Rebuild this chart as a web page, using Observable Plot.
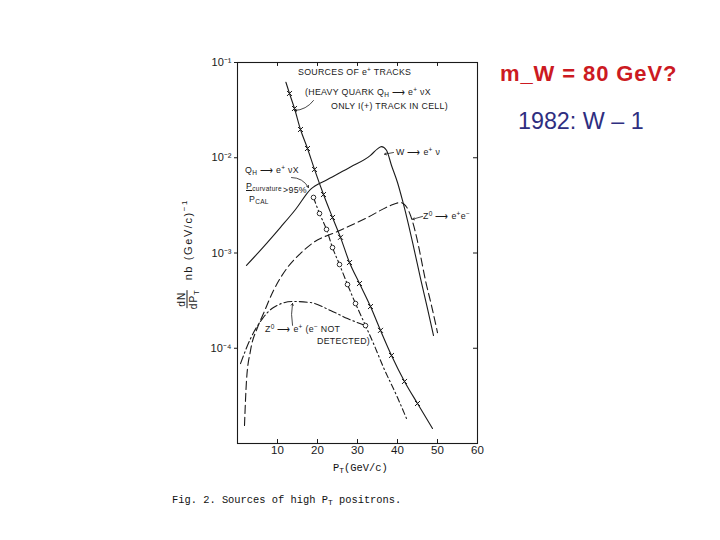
<!DOCTYPE html>
<html>
<head>
<meta charset="utf-8">
<script src="https://cdn.jsdelivr.net/npm/d3@7"></script>
<script src="https://cdn.jsdelivr.net/npm/@observablehq/plot@0.6"></script>
<style>
  html, body { margin: 0; padding: 0; background: #fff; }
  #wrap { position: relative; width: 720px; height: 540px; overflow: hidden; background: #fff; }
  #chart { position: absolute; left: 0; top: 0; }
  .a { position: absolute; font-family: "Liberation Sans", Arial, sans-serif; font-size: 8.8px; color: #1a1a1a; white-space: nowrap; line-height: 10px; letter-spacing: 0.3px; }
  .a sub { font-size: 6.5px; vertical-align: -2px; line-height: 0; }
  .a sup { font-size: 6.5px; vertical-align: 3px; line-height: 0; }
  .mono { position: absolute; font-family: "Liberation Mono", "DejaVu Sans Mono", monospace; font-size: 10.4px; color: #111; white-space: nowrap; line-height: 12px; }
  .mono sub { font-size: 8px; vertical-align: -2px; line-height: 0; }
  .slide { position: absolute; font-family: "Liberation Sans", Arial, sans-serif; white-space: nowrap; line-height: 1; }
  #ylab { position: absolute; left: 187px; top: 254px; transform: translate(-50%, -50%) rotate(-90deg); font-family: "Liberation Sans", Arial, sans-serif; font-size: 11px; color: #1a1a1a; white-space: nowrap; letter-spacing: 1.6px; display: flex; align-items: center; }
  #ylab .frac { display: inline-flex; flex-direction: column; align-items: center; margin-right: 9px; font-size: 10px; line-height: 11px; letter-spacing: 1px; }
  #ylab .frac .num { border-bottom: 1px solid #1a1a1a; padding: 0 2px; }
  #ylab sub { font-size: 7.5px; vertical-align: -2px; line-height: 0; }
  #ylab sup { font-size: 8px; vertical-align: 5px; line-height: 0; }
</style>
</head>
<body>
<div id="wrap">
  <div id="chart"></div>

  <div class="a" style="left:298px;top:67px;">SOURCES OF e<sup>+</sup> TRACKS</div>
  <div class="a" style="left:305px;top:87px;">(HEAVY QUARK Q<sub>H</sub> ⟶ e<sup>+</sup> νX</div>
  <div class="a" style="left:331px;top:101px;">ONLY I(+) TRACK IN CELL)</div>
  <div class="a" style="left:396px;top:147px;">W ⟶ e<sup>+</sup> ν</div>
  <div class="a" style="left:245px;top:165px;">Q<sub>H</sub> ⟶ e<sup>+</sup> νX</div>
  <div class="a" style="left:246px;top:181px;text-decoration:underline;">P<sub>curvature</sub></div>
  <div class="a" style="left:283px;top:185px;">&gt;95%</div>
  <div class="a" style="left:249px;top:194px;">P<sub>CAL</sub></div>
  <div class="a" style="left:423px;top:211px;">Z<sup>0</sup> ⟶ e<sup>+</sup>e<sup>−</sup></div>
  <div class="a" style="left:265px;top:324px;">Z<sup>0</sup> ⟶ e<sup>+</sup> (e<sup>−</sup> NOT</div>
  <div class="a" style="left:317px;top:336px;">DETECTED)</div>

  <div id="ylab"><span class="frac"><span class="num">dN</span><span>dP<sub>T</sub></span></span><span>nb (GeV/c)<sup>−1</sup></span></div>

  <div class="mono" style="left:333px;top:462px;">P<sub>T</sub>(GeV/c)</div>
  <div class="mono" style="left:172px;top:494px;">Fig. 2.  Sources of high P<sub>T</sub> positrons.</div>

  <div class="slide" style="left:500px;top:63px;font-size:22px;font-weight:bold;letter-spacing:0.9px;color:#cc1a22;">m_W = 80 GeV?</div>
  <div class="slide" style="left:518px;top:110px;font-size:23.3px;color:#2e2e80;">1982: W – 1</div>
</div>

<script>
// ---- data ----
const xTicks = [10, 20, 30, 40, 50, 60];
const yTicks = [1e-1, 1e-2, 1e-3, 1e-4];

// Heavy quark Q_H -> e+ nu X (only 1(+) track in cell): solid line with x markers
const hqPt  = [12.1, 13.0, 14.25, 15.75, 17.5, 19.25, 21.5, 23.75, 25.75, 28.0, 30.5, 33.25, 35.75, 38.5, 41.75, 45.0, 48.75];
const hqVal = [0.062, 0.0473, 0.0329, 0.0198, 0.0125, 0.00754, 0.00411, 0.00236, 0.00146, 0.000794, 0.000478, 0.000274, 0.000154, 0.000084, 0.0000448, 0.0000263, 0.0000144];

// Q_H -> e+ nu X with Pcurvature/PCAL > 95%: dash-dot line with open circles
const circPt  = [19, 20.5, 22.25, 23.75, 25.5, 27.5, 29.5, 32, 34, 36.5, 40, 42.25];
const circVal = [0.00383, 0.0026, 0.00177, 0.00114, 0.000757, 0.000467, 0.000295, 0.000173, 0.000112, 0.0000628, 0.0000304, 0.0000183];
const circMarked = 8; // first eight points carry circles

// W -> e+ nu: solid line
const wPt  = [2.25, 6.5, 10.75, 14.5, 18.25, 22.5, 28.25, 33.25, 35, 36, 37.25, 38.5, 40, 41.25, 42.75, 44, 45.75, 47.5, 49];
const wVal = [0.00074, 0.00116, 0.00186, 0.00286, 0.00465, 0.0059, 0.0080, 0.0106, 0.0124, 0.0131, 0.0120, 0.0083, 0.0055, 0.00356, 0.00199, 0.00117, 0.00054, 0.000261, 0.000136];

// Z0 -> e+ e-: dashed line
const zPt  = [1.75, 2.25, 3.25, 5, 6.5, 9, 12.5, 15.75, 19, 25, 32.5, 38.25, 40.75, 42, 43.25, 44.5, 45.75, 47, 48.5, 50];
const zVal = [1.55e-5, 4.58e-5, 9.46e-5, 1.65e-4, 2.32e-4, 4.04e-4, 7.05e-4, 9.9e-4, 1.29e-3, 1.68e-3, 2.36e-3, 3.15e-3, 3.39e-3, 3.15e-3, 2.48e-3, 1.64e-3, 9.4e-4, 5.14e-4, 2.81e-4, 1.46e-4];

// Z0 -> e+ (e- not detected): dash-dot line
const zndPt  = [0.75, 3.25, 6.25, 9, 13.75, 18.25, 23.25, 27.5, 32];
const zndVal = [6.9e-5, 1.26e-4, 2.05e-4, 2.68e-4, 3.1e-4, 3.02e-4, 2.49e-4, 2.05e-4, 1.73e-4];

// ---- build rows ----
const rows = (xs, ys) => xs.map((x, i) => ({pT: x, v: ys[i]}));
const hq = rows(hqPt, hqVal);
const circ = rows(circPt, circVal);
const w = rows(wPt, wVal);
const z = rows(zPt, zVal);
const znd = rows(zndPt, zndVal);

const sup = {"-": "⁻", "0": "⁰", "1": "¹", "2": "²", "3": "³", "4": "⁴", "5": "⁵"};
const fmtY = d => "10" + String(Math.round(Math.log10(d))).split("").map(c => sup[c]).join("");

const ink = "#1a1a1a";
const arrowOpts = {stroke: ink, strokeWidth: 0.8, headLength: 4, inset: 0};

const chart = Plot.plot({
  width: 720,
  height: 540,
  marginLeft: 237,
  marginRight: 243,
  marginTop: 62,
  marginBottom: 97,
  style: {fontFamily: "Liberation Sans, Arial, sans-serif", fontSize: "10px", color: ink, background: "transparent"},
  x: {domain: [0, 60]},
  y: {type: "log", domain: [1e-5, 1e-1]},
  marks: [
    Plot.frame({stroke: ink, strokeWidth: 1.1}),
    Plot.axisX({ticks: xTicks, tickSize: 0, tickPadding: 2, label: null, fontSize: 11.5}),
    Plot.axisY({ticks: yTicks, tickSize: 3, tickPadding: 3, label: null, tickFormat: fmtY, fontSize: 11}),
    // inward ticks on all four sides
    Plot.ruleX(xTicks.slice(0, -1), {x: d => d, y1: 1e-5, y2: 1.1e-5, stroke: ink}),
    Plot.ruleX(xTicks.slice(0, -1), {x: d => d, y1: 1e-1, y2: 1e-1 / 1.1, stroke: ink}),
    Plot.ruleY(yTicks.slice(1), {y: d => d, x1: 59, x2: 60, stroke: ink}),
    // curves
    Plot.line(w, {x: "pT", y: "v", stroke: ink, strokeWidth: 1.1, curve: "monotone-x"}),
    Plot.line(z, {x: "pT", y: "v", stroke: ink, strokeWidth: 1.1, strokeDasharray: "8,4", curve: "monotone-x"}),
    Plot.line(znd, {x: "pT", y: "v", stroke: ink, strokeWidth: 1.1, strokeDasharray: "8,3,1.5,3", curve: "monotone-x"}),
    Plot.line(circ, {x: "pT", y: "v", stroke: ink, strokeWidth: 1.1, strokeDasharray: "6,3,1.5,3", curve: "monotone-x"}),
    Plot.line(hq, {x: "pT", y: "v", stroke: ink, strokeWidth: 1.1, curve: "monotone-x"}),
    Plot.dot(hq.slice(1, -1), {x: "pT", y: "v", symbol: "times", r: 2.4, stroke: ink, strokeWidth: 1}),
    Plot.dot(circ.slice(0, circMarked), {x: "pT", y: "v", symbol: "circle", r: 2.3, fill: "white", stroke: ink, strokeWidth: 0.9}),
    // annotation arrows
    Plot.arrow([0], {x1: 19, y1: 0.0399, x2: 14.25, y2: 0.0313, bend: 25, ...arrowOpts}),
    Plot.arrow([0], {x1: 39, y1: 0.01135, x2: 36.75, y2: 0.0109, ...arrowOpts}),
    Plot.arrow([0], {x1: 13.5, y1: 0.0062, x2: 17.75, y2: 0.00487, bend: 30, ...arrowOpts}),
    Plot.arrow([0], {x1: 46.25, y1: 0.00242, x2: 43.75, y2: 0.00226, ...arrowOpts}),
    Plot.arrow([0], {x1: 13.75, y1: 1.74e-4, x2: 13.75, y2: 2.95e-4, bend: 10, ...arrowOpts})
  ]
});

document.getElementById("chart").appendChild(chart);
</script>
</body>
</html>
